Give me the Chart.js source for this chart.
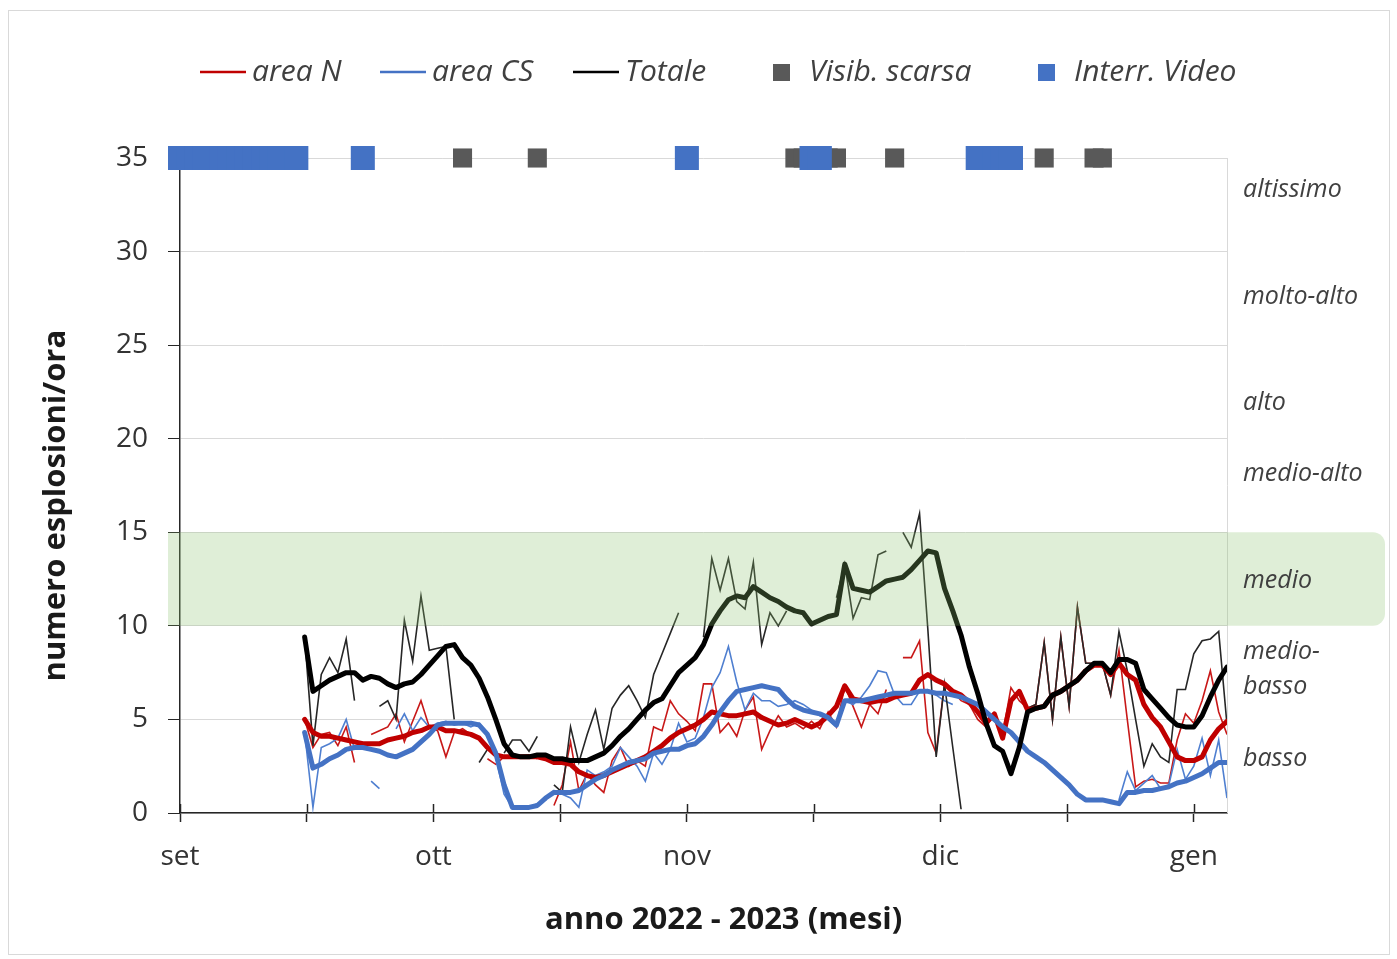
<!DOCTYPE html>
<html><head><meta charset="utf-8">
<script src="https://cdn.jsdelivr.net/npm/chart.js@4/dist/chart.umd.min.js"></script>
<style>html,body{margin:0;padding:0;background:#fff}</style>
</head><body>
<canvas id="c" width="1397" height="959"></canvas>
<script>
// ---- data (day 0 = 1 settembre 2022) ----
const firstDay = 15; // 16 settembre
const monthTicks  = [0, 15.25, 30.5, 45.75, 61, 76.25, 91.5, 106.75, 122];
const monthLabels = ['set', '', 'ott', '', 'nov', '', 'dic', '', 'gen'];
const yTickStep = 5, yMax = 35, xMax = 126;

// area N, valori giornalieri
const areaN = [5.0,3.5,4.2,4.3,3.6,4.6,2.7,null,4.2,4.4,
 4.6,5.3,3.8,4.9,6.0,4.6,4.4,3.0,4.3,4.5,
 4.2,null,2.9,2.6,3.0,3.0,3.0,3.1,2.9,null,
 0.4,1.5,3.8,1.2,2.1,1.5,1.1,2.8,3.5,2.5,
 2.8,2.5,4.6,4.4,6.0,5.3,4.9,4.4,6.9,6.9,
 4.3,4.8,4.1,5.5,6.2,3.4,4.4,5.2,4.6,4.8,
 4.5,4.9,4.5,5.4,4.6,6.8,5.7,4.6,5.8,5.3,
 6.6,null,8.3,8.3,9.2,4.3,3.2,6.9,6.5,6.0,
 5.8,5.0,4.6,5.3,4.2,6.7,6.0,5.6,5.8,9.1,
 5.0,9.4,5.7,11.0,8.0,8.0,8.0,6.3,8.7,5.0,
 1.4,1.7,1.8,1.6,1.6,3.9,5.3,4.8,6.0,7.6,
 5.4,4.2];
// area N, media mobile
const areaNMedia = [5.0,4.3,4.1,4.1,4.0,3.9,3.8,3.7,3.7,3.7,
 3.9,4.0,4.1,4.3,4.4,4.6,4.6,4.4,4.4,4.3,
 4.2,4.0,3.5,3.1,3.0,3.0,3.0,3.0,3.0,2.9,
 2.7,2.7,2.6,2.2,2.0,1.9,2.0,2.2,2.4,2.6,
 2.8,3.0,3.3,3.6,4.0,4.3,4.5,4.7,5.0,5.4,
 5.3,5.2,5.2,5.3,5.4,5.1,4.9,4.7,4.8,5.0,
 4.8,4.6,4.8,5.2,5.7,6.8,6.1,6.0,5.9,6.0,
 6.0,6.2,6.3,6.4,7.1,7.4,7.1,6.9,6.5,6.3,
 5.9,5.4,4.8,5.3,4.0,6.0,6.5,5.5,5.6,5.7,
 6.3,6.5,6.8,7.1,7.6,7.9,7.9,7.4,8.0,7.4,
 7.1,5.8,5.1,4.6,3.8,3.0,2.8,2.8,3.0,3.9,
 4.5,4.9];
// area CS, valori giornalieri
const areaCS = [4.3,0.3,3.5,3.7,4.0,5.0,3.4,null,1.7,1.3,
 null,4.5,5.3,4.4,5.1,4.6,4.8,4.9,4.7,4.8,
 4.6,4.8,4.3,3.0,1.0,0.3,0.3,0.3,0.5,0.7,
 1.2,1.0,0.8,0.3,2.3,2.0,2.2,2.5,3.5,3.0,
 2.5,1.7,3.2,2.6,3.4,4.8,3.8,4.0,5.1,6.7,
 7.5,8.9,7.0,5.5,6.4,6.0,6.0,5.7,5.8,6.0,
 5.8,5.5,5.2,5.0,4.6,6.0,5.8,6.2,6.8,7.6,
 7.5,6.3,5.8,5.8,6.5,6.6,6.3,6.0,5.8,null,
 null,null,null,null,null,null,null,null,null,null,
 null,null,null,null,null,null,null,null,0.7,2.2,
 1.2,1.6,2.0,1.3,1.5,3.4,1.8,2.5,4.0,2.0,
 3.9,0.8];
// area CS, media mobile
const areaCSMedia = [4.3,2.4,2.6,2.9,3.1,3.4,3.5,3.5,3.4,3.3,
 3.1,3.0,3.2,3.4,3.8,4.2,4.7,4.8,4.8,4.8,
 4.8,4.7,4.2,3.2,1.5,0.3,0.3,0.3,0.4,0.8,
 1.1,1.1,1.1,1.2,1.5,1.8,2.0,2.3,2.5,2.7,
 2.8,2.9,3.2,3.3,3.4,3.4,3.6,3.7,4.1,4.7,
 5.4,6.0,6.5,6.6,6.7,6.8,6.7,6.6,6.1,5.7,
 5.5,5.4,5.3,5.1,4.7,6.0,6.0,6.0,6.1,6.2,
 6.3,6.4,6.4,6.4,6.5,6.5,6.4,6.4,6.3,6.2,
 6.0,5.8,5.4,5.0,4.6,4.3,3.8,3.3,3.0,2.7,
 2.3,1.9,1.5,1.0,0.7,0.7,0.7,0.6,0.5,1.1,
 1.1,1.2,1.2,1.3,1.4,1.6,1.7,1.9,2.1,2.4,
 2.7,2.7];
// Totale, valori giornalieri
const totale = [9.4,3.6,7.4,8.3,7.5,9.3,6.0,null,null,5.7,
 6.0,5.0,10.3,8.1,11.6,8.7,8.8,8.9,5.0,null,
 null,2.7,3.4,null,3.2,3.9,3.9,3.3,4.1,null,
 1.5,1.1,4.6,2.7,4.2,5.5,3.4,5.6,6.3,6.8,
 6.0,5.1,7.4,8.5,9.6,10.7,null,null,9.4,13.6,
 11.9,13.6,11.3,10.9,13.4,9.0,10.7,10.0,10.8,null,
 null,null,null,null,11.5,13.3,10.4,11.5,11.4,13.8,
 14.0,null,15.0,14.2,16.0,9.8,3.0,6.9,3.5,0.2,
 null,null,null,null,null,null,null,5.6,5.8,9.1,
 5.0,9.4,5.7,11.0,8.0,8.0,8.0,6.3,9.7,7.6,
 5.0,2.5,3.7,3.0,2.7,6.6,6.6,8.5,9.2,9.3,
 9.7,4.7];
// Totale, media mobile
const totaleMedia = [9.4,6.5,6.8,7.1,7.3,7.5,7.5,7.1,7.3,7.2,
 6.9,6.7,6.9,7.0,7.4,7.9,8.4,8.9,9.0,8.3,
 7.9,7.2,6.2,5.0,3.7,3.1,3.0,3.0,3.1,3.1,
 2.9,2.9,2.8,2.8,2.8,3.0,3.2,3.6,4.1,4.5,
 5.0,5.5,5.9,6.1,6.8,7.5,7.9,8.3,9.0,10.1,
 10.8,11.4,11.6,11.5,12.1,11.8,11.5,11.3,11.0,10.8,
 10.7,10.1,10.3,10.5,10.6,13.3,12.0,11.9,11.8,12.1,
 12.4,12.5,12.6,13.0,13.5,14.0,13.9,12.0,10.8,9.5,
 7.8,6.4,4.8,3.6,3.3,2.1,3.5,5.4,5.6,5.7,
 6.3,6.5,6.8,7.1,7.6,8.0,8.0,7.5,8.2,8.2,
 8.0,6.6,6.1,5.6,5.1,4.7,4.6,4.6,5.2,6.2,
 7.1,7.8];

// giorni con visibilita' scarsa / interruzione video (riportati a quota 35)
const markerLevel = 35;
const visibScarsaDays = [34, 43, 74, 75, 78, 79, 86, 104, 110, 111];
const interrVideoDays = [0,1,2,3,4,5,6,7,8,9,10,11,12,13,14, 22, 61, 76, 77, 96, 97, 98, 99, 100];

// fasce di attivita'
const levelNames = ['altissimo', 'molto-alto', 'alto', 'medio-alto', 'medio', ['medio-', 'basso'], 'basso'];
const levelLabelValues = [33.3, 27.6, 21.9, 18.1, 12.4, 7.7, 2.9];
const bandRange = [10, 15];

// ---- build ----
const toXY = arr => arr.map((v, i) => ({x: firstDay + i, y: v}));
const toMarkers = days => days.map(d => ({x: d, y: markerLevel}));

const FONT = "'Open Sans', sans-serif";
const TXT = '#404040';

const bandPlugin = {
  id: 'band',
  beforeDatasetsDraw(chart) {
    const {ctx, chartArea, scales: {x}} = chart;
    ctx.save();
    ctx.strokeStyle = '#262626'; ctx.lineWidth = 1.5;
    x.ticks.forEach(t => {
      const px = Math.round(x.getPixelForValue(t.value)) + 0.5;
      ctx.beginPath(); ctx.moveTo(px, chartArea.bottom - 9); ctx.lineTo(px, chartArea.bottom); ctx.stroke();
    });
    ctx.strokeStyle = '#d9d9d9'; ctx.lineWidth = 1;
    ctx.beginPath(); ctx.moveTo(chartArea.right + 0.5, chartArea.top); ctx.lineTo(chartArea.right + 0.5, chartArea.bottom); ctx.stroke();
    ctx.restore();
  },
  afterDatasetsDraw(chart) {
    const {ctx, chartArea, scales: {y}} = chart;
    const top = y.getPixelForValue(bandRange[1]), bot = y.getPixelForValue(bandRange[0]);
    const left = chartArea.left - 12, right = 1385;
    ctx.save();
    ctx.fillStyle = 'rgba(140,195,110,0.28)';
    ctx.beginPath();
    ctx.roundRect(left, top, right - left, bot - top, [0, 12, 12, 0]);
    ctx.fill();
    ctx.restore();
  },
  afterDraw(chart) {
    const {ctx, scales: {y}} = chart;
    ctx.save();
    ctx.strokeStyle = '#d9d9d9'; ctx.lineWidth = 1;
    ctx.strokeRect(8.5, 10.5, 1381, 944);
    ctx.fillStyle = TXT;
    ctx.font = `italic 25px ${FONT}`;
    ctx.textBaseline = 'middle'; ctx.textAlign = 'left';
    levelNames.forEach((name, i) => {
      const py = y.getPixelForValue(levelLabelValues[i]);
      if (Array.isArray(name)) {
        ctx.fillText(name[0], 1243, py - 17);
        ctx.fillText(name[1], 1243, py + 18);
      } else ctx.fillText(name, 1243, py);
    });
    const ly = 72;
    const items = chart.data.datasets.filter(d => d.legendKind);
    items.sort((a, b) => a.legendX - b.legendX);
    ctx.font = `italic 30px ${FONT}`;
    items.forEach(d => {
      if (d.legendKind === 'line') {
        ctx.strokeStyle = d.borderColor; ctx.lineWidth = 2.5;
        ctx.beginPath(); ctx.moveTo(d.legendX, ly); ctx.lineTo(d.legendX + 46, ly); ctx.stroke();
        ctx.fillStyle = TXT; ctx.fillText(d.label, d.legendX + 52, ly);
      } else {
        ctx.fillStyle = d.backgroundColor;
        ctx.fillRect(d.legendX, ly - 8, 17, 17);
        ctx.fillStyle = TXT; ctx.fillText(d.label, d.legendX + 36, ly);
      }
    });
    ctx.restore();
  }
};

const thin = (label, data, color) => ({label, data: toXY(data), borderColor: color, borderWidth: 1.6,
  pointRadius: 0, tension: 0, spanGaps: false, fill: false});
const thick = (label, data, color) => ({label, data: toXY(data), borderColor: color, borderWidth: 5,
  pointRadius: 0, tension: 0, fill: false, borderJoinStyle: 'round', borderCapStyle: 'round'});

new Chart(document.getElementById('c'), {
  type: 'line',
  data: {
    datasets: [
      {label: 'Interr. Video', data: toMarkers(interrVideoDays), showLine: false, pointStyle: 'rect',
       pointRadius: 17, pointHoverRadius: 17, pointBorderWidth: 0, backgroundColor: '#4472c4', borderColor: '#4472c4',
       clip: false, legendKind: 'box', legendX: 1038},
      {label: 'Visib. scarsa', data: toMarkers(visibScarsaDays), showLine: false, pointStyle: 'rect',
       pointRadius: 13.5, pointHoverRadius: 13.5, pointBorderWidth: 0, backgroundColor: '#595959', borderColor: '#595959',
       clip: false, legendKind: 'box', legendX: 773},
      Object.assign(thick('Totale', totaleMedia, '#000000'), {legendKind: 'line', legendX: 573}),
      Object.assign(thick('area CS', areaCSMedia, '#4472c4'), {legendKind: 'line', legendX: 380}),
      Object.assign(thick('area N', areaNMedia, '#c00000'), {legendKind: 'line', legendX: 200}),
      thin('Totale giornaliero', totale, '#262626'),
      thin('area CS giornaliero', areaCS, '#4f7fd0'),
      thin('area N giornaliero', areaN, '#c81818'),
    ]
  },
  options: {
    responsive: false,
    animation: false,
    events: [],
    layout: {padding: {left: 20, right: 170, top: 158, bottom: 10}},
    plugins: {legend: {display: false}, tooltip: {enabled: false}},
    scales: {
      x: {
        type: 'linear', min: 0, max: xMax,
        afterBuildTicks: s => { s.ticks = monthTicks.map(v => ({value: v})); },
        afterFit: s => { s.height = 136; },
        grid: {drawOnChartArea: false, drawTicks: true, tickLength: 9, tickColor: '#262626', tickWidth: 1.5},
        border: {color: '#262626', width: 1.5},
        ticks: {autoSkip: false, maxRotation: 0, padding: 18, color: '#333333', font: {family: FONT, size: 28},
                callback: (v, i) => monthLabels[i]},
        title: {display: true, text: '     anno 2022 - 2023 (mesi)', color: '#1a1a1a',
                font: {family: FONT, size: 31, weight: 'bold'}, padding: {top: 0, bottom: 10}}
      },
      y: {
        min: 0, max: yMax,
        afterFit: s => { s.width = 160; },
        grid: {color: '#d9d9d9', lineWidth: 1, tickLength: 12, tickColor: '#262626'},
        border: {color: '#262626', width: 1.5},
        ticks: {stepSize: yTickStep, padding: 20, color: '#333333', font: {family: FONT, size: 28}},
        title: {display: true, text: 'numero esplosioni/ora     ', color: '#1a1a1a',
                font: {family: FONT, size: 31, weight: 'bold'}, padding: {top: 18, bottom: 0}}
      }
    }
  },
  plugins: [bandPlugin]
});
</script>
</body></html>
